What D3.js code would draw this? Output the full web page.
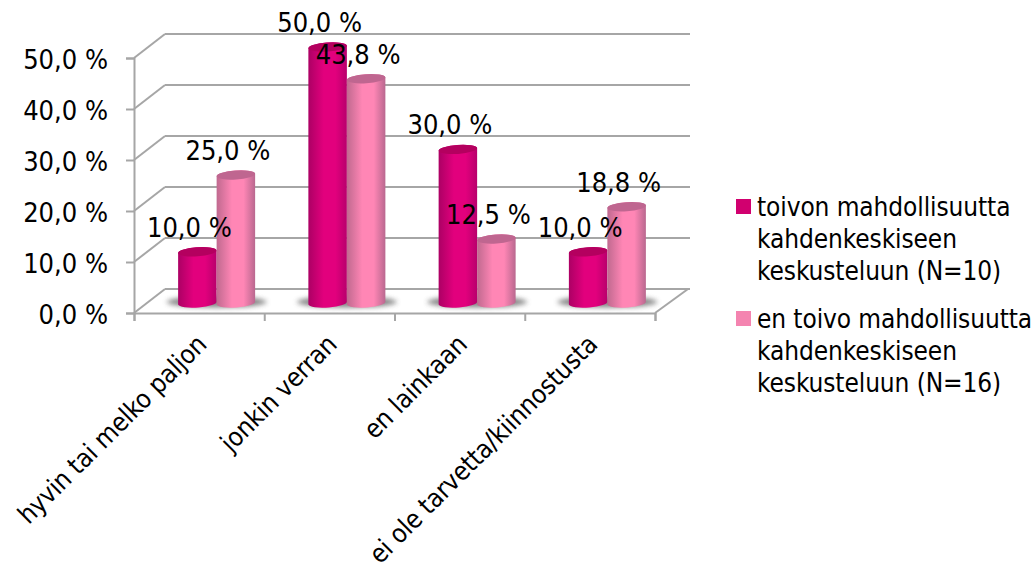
<!DOCTYPE html>
<html>
<head>
<meta charset="utf-8">
<script src="https://cdn.jsdelivr.net/npm/d3@7"></script>
<style>
  html, body { margin: 0; padding: 0; background: #fff; }
  svg { display: block; }
  text { font-family: "DejaVu Sans Condensed", "DejaVu Sans", sans-serif; fill: #000; font-stretch: condensed; }
</style>
</head>
<body>
<div id="chart"></div>
<script>
const categories = ['hyvin tai melko paljon', 'jonkin verran', 'en lainkaan', 'ei ole tarvetta/kiinnostusta']
const seriesA = [10.0, 50.0, 30.0, 10.0]
const seriesB = [25.0, 43.8, 12.5, 18.8]
const yTicks = [0, 10, 20, 30, 40, 50]
const legendA = ['toivon mahdollisuutta', 'kahdenkeskiseen', 'keskusteluun (N=10)']
const legendB = ['en toivo mahdollisuutta', 'kahdenkeskiseen', 'keskusteluun (N=16)']

const fmt = v => v.toFixed(1).replace('.', ',') + ' %'

const width = 1035, height = 569
const front = { left: 134, right: 655, bottom: 313, top: 58 }
const depth = { x: 31, y: -24 }
const gridColor = '#a6a6a6'

const svg = d3.select('#chart').append('svg')
  .attr('width', width)
  .attr('height', height)

const defs = svg.append('defs')

function cylGradient(id, edgeL, mid, edgeR) {
  const g = defs.append('linearGradient').attr('id', id)
  g.append('stop').attr('offset', '0%').attr('stop-color', edgeL)
  g.append('stop').attr('offset', '40%').attr('stop-color', mid)
  g.append('stop').attr('offset', '70%').attr('stop-color', mid)
  g.append('stop').attr('offset', '100%').attr('stop-color', edgeR)
}
cylGradient('cylA', '#ac0064', '#e2007d', '#b8006c')
cylGradient('cylB', '#c0698f', '#ff86b5', '#b9688f')
defs.append('filter').attr('id', 'blur')
  .attr('x', '-20%').attr('y', '-100%').attr('width', '140%').attr('height', '300%')
  .append('feGaussianBlur').attr('stdDeviation', 2.5)

const y = d3.scaleLinear().domain([0, 50]).range([front.bottom, front.top])
const xEdge = d3.scaleLinear().domain([0, categories.length]).range([front.left, front.right])
const xCat = d3.scaleBand().domain(categories).range([front.left, front.right])
// bars stand on the floor, a bit behind the front edge
const yBar = d3.scaleLinear().domain([0, 50]).range([303, 47])
const xSeries = d3.scaleBand().domain([0, 1]).range([-21, 56])

// walls
const walls = svg.append('g')
walls.selectAll('.back').data(yTicks).enter().append('line')
  .attr('x1', front.left + depth.x)
  .attr('x2', front.right + depth.x + 4)
  .attr('y1', d => y(d) + depth.y)
  .attr('y2', d => y(d) + depth.y)
walls.selectAll('.side').data(yTicks).enter().append('line')
  .attr('x1', front.left)
  .attr('x2', front.left + depth.x)
  .attr('y1', d => y(d))
  .attr('y2', d => y(d) + depth.y)
walls.append('line')
  .attr('x1', front.right).attr('x2', front.right + depth.x + 2)
  .attr('y1', front.bottom).attr('y2', front.bottom + depth.y)
walls.selectAll('line').attr('stroke', gridColor).attr('stroke-width', 2)

// axes
const yAxis = d3.axisLeft(y).tickValues(yTicks).tickSize(8).tickPadding(18).tickFormat(fmt)
const xAxis = d3.axisBottom(xEdge).ticks(categories.length).tickSize(8).tickFormat('')

const gy = svg.append('g').attr('transform', `translate(${front.left},0)`).call(yAxis)
const gx = svg.append('g').attr('transform', `translate(0,${front.bottom})`).call(xAxis)
svg.selectAll('.domain').attr('stroke', gridColor).attr('stroke-width', 2)
svg.selectAll('.tick line').attr('stroke', gridColor).attr('stroke-width', 2)
gy.selectAll('text').style('font-size', '27px').attr('dy', '0.4em')

svg.append('g').selectAll('text').data(categories).enter().append('text')
  .attr('text-anchor', 'end')
  .attr('transform', d => `translate(${xCat(d) + xCat.bandwidth() / 2 + 9},346) rotate(-45)`)
  .style('font-size', '26px')
  .style('letter-spacing', '-0.2px')
  .text(d => d)

// one cylinder: slightly tilted ellipses at the top and the bottom
function cylinderPath(x, w, yTop, yBottom) {
  const rx = w / 2, ry = 4.5, tilt = 1.6
  return `M${x},${yTop + tilt}` +
    `L${x},${yBottom + tilt}` +
    `A${rx},${ry} -4 0 0 ${x + w},${yBottom - tilt}` +
    `L${x + w},${yTop - tilt}` +
    `A${rx},${ry} -4 0 0 ${x},${yTop + tilt}Z`
}

const rows = categories.map((c, i) => ({ c, a: seriesA[i], b: seriesB[i] }))

svg.append('g').selectAll('ellipse').data(rows).enter().append('ellipse')
  .attr('cx', d => xCat(d.c) + xCat.bandwidth() / 2 + xSeries(1))
  .attr('cy', 302)
  .attr('rx', 50)
  .attr('ry', 5.5)
  .attr('fill', '#666')
  .attr('opacity', 0.8)
  .attr('filter', 'url(#blur)')

const series = [
  { key: 'a', grad: 'url(#cylA)', cap: '#b4005f', idx: 0 },
  { key: 'b', grad: 'url(#cylB)', cap: '#bf6690', idx: 1 }
]

const bars = svg.append('g')
series.forEach(s => {
  const xOf = d => xCat(d.c) + xCat.bandwidth() / 2 + xSeries(s.idx)
  bars.selectAll('.body' + s.idx).data(rows).enter().append('path')
    .attr('d', d => cylinderPath(xOf(d), xSeries.bandwidth(), yBar(d[s.key]), yBar(0)))
    .attr('fill', s.grad)
  bars.selectAll('.cap' + s.idx).data(rows).enter().append('ellipse')
    .attr('rx', xSeries.bandwidth() / 2)
    .attr('ry', 4.5)
    .attr('transform', d => `translate(${xOf(d) + xSeries.bandwidth() / 2},${yBar(d[s.key])}) rotate(-4)`)
    .attr('fill', s.cap)
})

// value labels go on top of every bar
const labels = svg.append('g')
series.forEach(s => {
  labels.selectAll('.lab' + s.idx).data(rows).enter().append('text')
    .attr('text-anchor', 'middle')
    .attr('x', d => xCat(d.c) + xCat.bandwidth() / 2 + xSeries(s.idx) + xSeries.bandwidth() / 2 - 8)
    .attr('y', d => yBar(d[s.key]) - 15)
    .style('font-size', '27px')
    .text(d => fmt(d[s.key]))
})

// legend
const legend = svg.append('g')
const legendRows = [
  { lines: legendA, color: '#d1006f', y: 216 },
  { lines: legendB, color: '#f484b0', y: 328 }
]
legendRows.forEach(r => {
  legend.append('rect')
    .attr('x', 736).attr('y', r.y - 17)
    .attr('width', 15).attr('height', 15)
    .attr('fill', r.color)
  legend.selectAll(null).data(r.lines).enter().append('text')
    .attr('x', 757)
    .attr('y', (d, i) => r.y + i * 32)
    .style('font-size', '26px')
    .style('letter-spacing', '-0.1px')
    .text(d => d)
})
</script>
</body>
</html>
